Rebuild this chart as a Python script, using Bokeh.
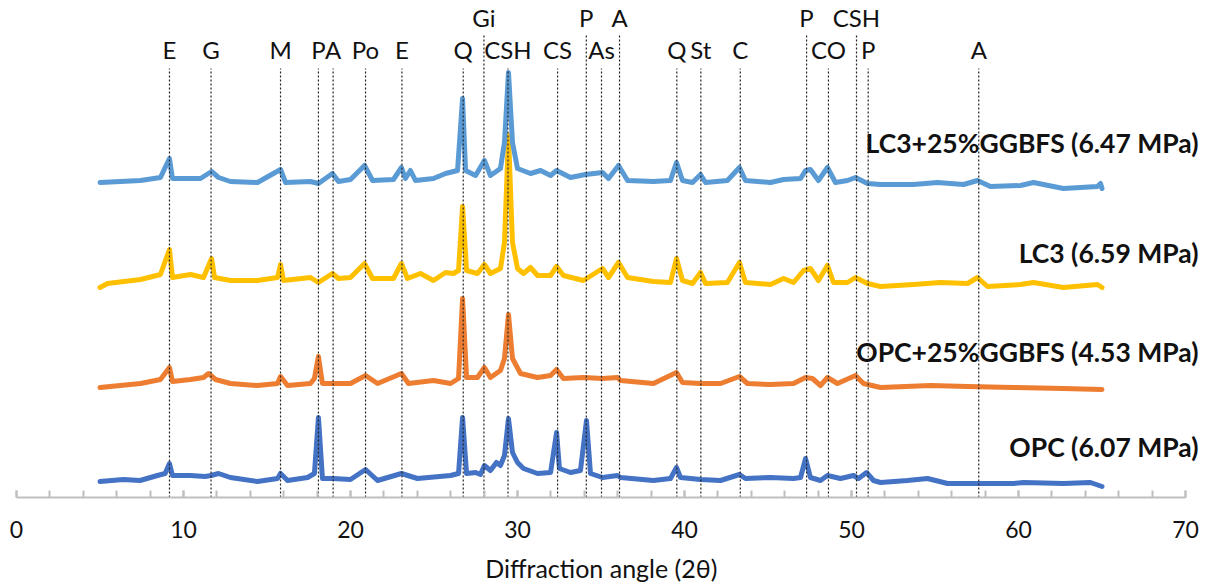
from bokeh.plotting import figure
from bokeh.models import Range1d, SingleIntervalTicker, ColumnDataSource, LabelSet, Label
from bokeh.core.properties import value
from bokeh.embed import file_html
from bokeh.resources import INLINE

# ---------------- data (2theta in degrees, intensity in a.u. above each pattern's baseline) ----------------
opc_angle = [5.0, 6.4, 7.4, 8.44, 8.9, 9.16, 9.34, 10.42, 11.3, 11.65, 12.1, 12.81, 14.43, 15.63, 15.81, 16.23,
             17.43, 17.84, 18.08, 18.32, 18.92, 20.0, 20.9, 21.62, 23.05, 24.01, 25.99, 26.47, 26.71, 26.95,
             27.49, 27.78, 28.02, 28.38, 28.74, 28.98, 29.22, 29.46, 29.7, 30.0, 30.36, 31.2, 31.98, 32.34,
             32.51, 33.17, 33.77, 34.13, 34.37, 35.09, 35.99, 36.17, 38.14, 39.16, 39.52, 39.76, 40.96, 42.16,
             43.29, 43.65, 45.15, 46.53, 46.95, 47.25, 47.54, 48.14, 48.56, 49.34, 50.12, 50.42, 50.9, 51.32,
             51.74, 53.35, 54.55, 55.75, 57.54, 59.7, 60.3, 62.69, 64.31, 65.0]
opc_int = [1, 3, 2, 7, 9, 19, 7, 7, 6, 7, 9, 5, 1, 4, 9, 2,
           5, 9, 65, 4, 4, 3, 13, 2, 9, 4, 7, 9, 65, 9,
           10, 8, 17, 12, 20, 17, 27, 64, 30, 20, 14, 9, 10, 50,
           14, 10, 12, 62, 9, 5, 7, 5, 2, 4, 15, 5, 3, 2,
           8, 4, 5, 4, 5, 24, 5, 2, 7, 4, 7, 4, 10, 2,
           0, 2, 4, -1, -1, -1, 0, -1, 0, -4]

opc_gg_angle = [5.0, 7.43, 8.62, 9.16, 9.34, 10.42, 11.2, 11.5, 11.92, 12.81, 14.43, 15.63, 15.81, 16.23, 17.6,
                17.84, 18.08, 18.32, 18.92, 20.0, 20.9, 21.62, 23.05, 23.47, 24.97, 25.99, 26.47, 26.71, 26.95,
                27.6, 28.02, 28.38, 28.98, 29.22, 29.46, 29.7, 30.18, 31.2, 31.98, 32.34, 32.75, 33.95, 35.09,
                35.99, 36.17, 38.14, 39.52, 39.88, 40.96, 42.16, 43.29, 43.77, 45.15, 46.53, 47.25, 47.66, 48.14,
                48.56, 49.16, 50.24, 50.72, 51.74, 54.73, 56.95, 59.7, 62.69, 65.0]
opc_gg_int = [-2, 2, 6, 18, 4, 6, 8, 12, 6, 2, 0, 2, 9, 0, 2,
              7, 29, 2, 2, 2, 10, 2, 12, 2, 5, 2, 7, 87, 8,
              8, 18, 8, 15, 27, 71, 27, 12, 8, 10, 16, 7, 8, 7,
              8, 5, 2, 13, 3, 2, 2, 9, 2, 1, 2, 8, 7, 0,
              8, 2, 10, 2, -2, 0, -1, -2, -3, -4]

lc3_angle = [5.0, 5.45, 7.43, 8.62, 9.16, 9.34, 10.42, 11.2, 11.68, 11.86, 12.81, 14.43, 15.63, 15.81, 15.99,
             17.6, 18.08, 18.92, 19.28, 20.0, 20.84, 21.32, 22.57, 23.05, 23.41, 24.19, 24.97, 25.69, 26.17,
             26.47, 26.71, 26.95, 27.6, 28.02, 28.38, 28.98, 29.22, 29.46, 29.7, 30.0, 30.36, 30.78, 31.2,
             31.98, 32.34, 32.75, 33.95, 35.09, 35.45, 36.05, 36.59, 38.14, 39.16, 39.52, 39.88, 40.48, 40.96,
             41.26, 42.57, 43.29, 43.65, 45.15, 45.93, 46.53, 47.13, 47.54, 48.02, 48.56, 48.92, 49.76, 50.24,
             50.96, 51.74, 53.71, 55.33, 56.95, 57.54, 58.14, 60.12, 60.9, 62.69, 64.73, 65.0]
lc3_int = [-6, -2, 2, 7, 32, 4, 7, 4, 23, 4, 1, 1, 4, 17, 1,
           4, -1, 8, 3, 4, 18, 3, 3, 18, 3, 8, 1, 9, 8,
           11, 75, 11, 8, 17, 8, 13, 39, 146, 39, 13, 8, 14, 6,
           6, 15, 6, 1, 13, 4, 19, 4, 0, -1, 23, 1, -2, 9,
           -2, -1, 19, -1, -3, 3, -1, 11, 13, 1, 16, -1, -1, 4,
           -2, -5, -3, -1, -2, 4, -5, -3, -1, -6, -3, -6]

lc3_gg_angle = [5.0, 7.43, 8.62, 9.16, 9.34, 11.02, 11.68, 12.1, 12.81, 14.43, 15.81, 16.11, 17.6, 18.08, 18.92,
                19.28, 20.0, 20.84, 21.32, 22.57, 23.05, 23.29, 23.59, 23.89, 24.97, 25.69, 26.41, 26.71, 26.89,
                27.49, 28.02, 28.38, 28.98, 29.22, 29.46, 29.7, 30.0, 30.78, 31.38, 31.98, 32.34, 33.17, 34.07,
                35.09, 35.45, 36.05, 36.59, 38.14, 39.16, 39.52, 39.88, 40.48, 40.96, 41.26, 42.57, 43.29, 43.65,
                45.15, 45.93, 46.95, 47.25, 47.54, 48.02, 48.56, 49.04, 49.76, 50.24, 50.96, 51.74, 53.71, 55.15,
                56.71, 57.54, 58.32, 60.12, 60.9, 62.69, 64.73, 64.91, 65.0]
lc3_gg_int = [-1, 1, 4, 23, 3, 3, 10, 4, 0, -1, 12, -1, 0, -2, 8,
              0, 2, 16, 1, 2, 14, 3, 11, 1, 3, 8, 11, 83, 11,
              6, 21, 6, 13, 39, 109, 39, 13, 8, 11, 6, 11, 4, 7,
              9, 3, 16, 1, 0, 1, 19, 1, -1, 7, -1, 1, 14, 1,
              -1, 2, 3, 11, 12, 1, 14, -1, 1, 4, -2, -3, -3, -1,
              -3, 1, -5, -4, -1, -7, -5, -2, -7]

series_names = ["OPC (6.07 MPa)", "OPC+25%GGBFS (4.53 MPa)", "LC3 (6.59 MPa)", "LC3+25%GGBFS (6.47 MPa)"]

phase_names = ["E", "G", "M", "P", "A", "Po", "E", "Q", "Gi", "CSH", "CS", "P", "As", "A", "Q", "St", "C",
               "P", "CO", "CSH", "P", "A"]
phase_angles = [9.16, 11.65, 15.81, 18.08, 18.96, 20.90, 23.08, 26.75, 27.99, 29.43, 32.40, 34.12, 35.03,
                36.11, 39.54, 40.98, 43.34, 47.31, 48.62, 50.30, 51.00, 57.62]
phase_upper_row = [0, 0, 0, 0, 0, 0, 0, 0, 1, 0, 0, 1, 0, 1, 0, 0, 0, 1, 0, 1, 0, 0]

x_axis_min, x_axis_max, x_ticks_interval = 0, 70, 10

# ---------------- styles ----------------
colors = ["#4472C4", "#ED7D31", "#FFC000", "#5B9BD5"]
offsets = [15, 112, 216, 316]
name_y = [51, 146, 245, 355]
FONT = "Lato"
PX_PER_DEG = 16.7
LEFT = 16          # pixel position of 2theta = 0
RIGHT_PAD = 8
W, H = 1209, 585

p = figure(width=W, height=H, output_backend="svg", toolbar_location=None,
           x_range=Range1d(-LEFT / PX_PER_DEG, (W - RIGHT_PAD - LEFT) / PX_PER_DEG), y_range=Range1d(0, 497),
           min_border_left=0, min_border_right=RIGHT_PAD, min_border_top=0, min_border_bottom=88,
           y_axis_location=None)
p.outline_line_color = None
p.grid.visible = False
p.background_fill_color = "white"
p.border_fill_color = "white"

series = [(opc_angle, opc_int), (opc_gg_angle, opc_gg_int), (lc3_angle, lc3_int), (lc3_gg_angle, lc3_gg_int)]
for (ang, inten), c, off in zip(series, colors, offsets):
    p.line(ang, [v + off for v in inten], line_color=c, line_width=5, line_join="round", line_cap="round")

# dashed phase lines
tops = [464 if u else 429 for u in phase_upper_row]
p.segment(x0=phase_angles, x1=phase_angles, y0=[0] * len(phase_angles), y1=tops,
          line_color="#222222", line_width=1.2, line_dash="2 2")

label_src = ColumnDataSource(dict(x=phase_angles, y=[480 if u else 448 for u in phase_upper_row], t=phase_names))
p.add_layout(LabelSet(x="x", y="y", text="t", source=label_src, text_align="center", text_baseline="middle",
                      text_font=value(FONT), text_font_size="24px", text_color="#111111"))

for name, y in zip(series_names, name_y):
    p.add_layout(Label(x=70.78, y=y, text=name, text_align="right", text_baseline="middle",
                       text_font=FONT, text_font_size="26.5px", text_font_style="bold", text_color="#111111"))

ax = p.xaxis[0]
ax.bounds = (x_axis_min, x_axis_max)
ax.ticker = SingleIntervalTicker(interval=x_ticks_interval, num_minor_ticks=5)
ax.axis_line_color = "#BFBFBF"
ax.axis_line_width = 2
ax.major_tick_line_color = "#BFBFBF"
ax.minor_tick_line_color = "#BFBFBF"
ax.major_tick_line_width = 2
ax.minor_tick_line_width = 2
ax.major_tick_in = 7
ax.major_tick_out = 0
ax.minor_tick_in = 7
ax.minor_tick_out = 0
ax.major_label_text_font = FONT
ax.major_label_text_font_size = "23px"
ax.major_label_text_color = "#111111"
ax.major_label_standoff = 23
ax.axis_label = "Diffraction angle (2θ)"
ax.axis_label_text_font = FONT
ax.axis_label_text_font_size = "25px"
ax.axis_label_text_font_style = "normal"
ax.axis_label_text_color = "#111111"
ax.axis_label_standoff = 12

open("out.html", "w").write(file_html(p, INLINE))
